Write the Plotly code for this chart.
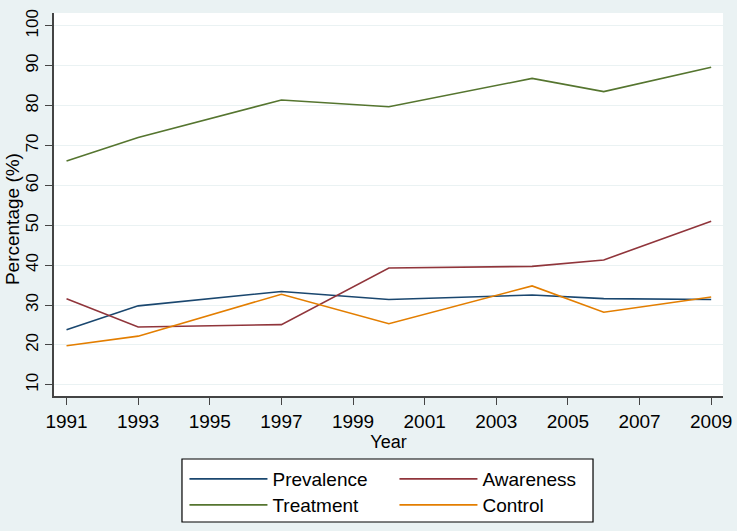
import plotly.graph_objects as go

# survey years
years = [1991, 1993, 1997, 2000, 2004, 2006, 2009]

# percentages
prevalence = [23.8, 29.8, 33.4, 31.4, 32.5, 31.6, 31.4]
awareness = [31.6, 24.5, 25.1, 39.3, 39.7, 41.3, 51.0]
treatment = [66.1, 72.0, 81.4, 79.7, 86.8, 83.5, 89.6]
control = [19.8, 22.2, 32.7, 25.3, 34.8, 28.2, 32.0]

x_ticks = list(range(1991, 2010, 2))
y_ticks = list(range(10, 101, 10))

BG = '#eaf2f3'
FONT = 'Liberation Sans, Arial, sans-serif'

series = [
    ('Prevalence', prevalence, '#1a476f', 'legend'),
    ('Awareness', awareness, '#90353b', 'legend'),
    ('Treatment', treatment, '#55752f', 'legend2'),
    ('Control', control, '#e37e00', 'legend2'),
]

fig = go.Figure()
for name, vals, col, lg in series:
    fig.add_trace(go.Scatter(x=years, y=vals, mode='lines', name=name,
                             line=dict(color=col, width=1.6), legend=lg))

legend_common = dict(orientation='h', xanchor='left', yanchor='middle',
                     bgcolor='rgba(0,0,0,0)', borderwidth=0,
                     font=dict(family=FONT, size=19, color='black'),
                     itemwidth=78, entrywidth=117, entrywidthmode='pixels',
                     traceorder='normal')

fig.update_layout(
    width=737, height=531,
    margin=dict(l=54, r=14, t=13, b=135, autoexpand=False),
    paper_bgcolor=BG, plot_bgcolor='white',
    font=dict(family=FONT, size=18, color='black'),
    showlegend=True,
    legend=dict(x=0.195, y=-0.2167, **legend_common),
    legend2=dict(x=0.195, y=-0.2846, **legend_common),
    shapes=[dict(type='rect', xref='paper', yref='paper',
                 x0=0.1913, x1=0.8057, y0=-0.1645, y1=-0.329,
                 line=dict(color='black', width=1.2), fillcolor='white',
                 layer='below')],
    annotations=[dict(text='Percentage (%)', textangle=-90, showarrow=False,
                      xref='paper', yref='paper', x=-0.0805, y=0.461,
                      xanchor='left', yanchor='middle',
                      font=dict(family=FONT, size=19, color='black'))],
)

fig.update_xaxes(range=[1990.65, 2009.33], tickvals=x_ticks, automargin=False,
                 showgrid=False, zeroline=False,
                 showline=True, linecolor='#444444', linewidth=1.5,
                 ticks='outside', ticklen=7, tickcolor='#444444',
                 tickfont=dict(size=19),
                 title=dict(text='Year', font=dict(size=18), standoff=4))
fig.update_yaxes(range=[7.2, 103.2], tickvals=y_ticks, automargin=False,
                 showgrid=True, gridcolor=BG, gridwidth=1.2, zeroline=False,
                 showline=True, linecolor='#444444', linewidth=1.5,
                 ticks='outside', ticklen=7, tickcolor='#444444',
                 tickangle=-90, tickfont=dict(size=17), ticklabelstandoff=0)

# drop the page's default body margin so the figure sits at the window corner
fig.write_html('out.html', config={'displayModeBar': False},
               post_script="document.body.style.margin='0';")
